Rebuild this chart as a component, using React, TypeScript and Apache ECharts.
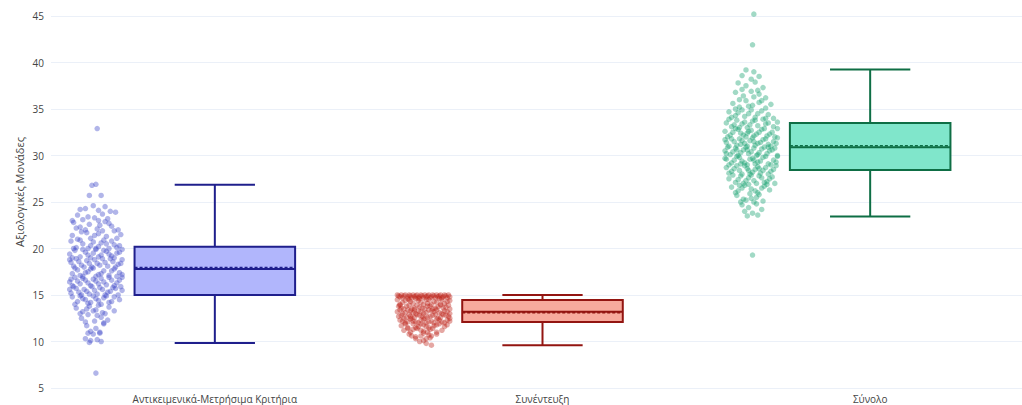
import React, { useEffect, useRef } from "react";
import * as echarts from "echarts";

const categories = ["Αντικειμενικά-Μετρήσιμα Κριτήρια", "Συνέντευξη", "Σύνολο"];
const yTicks = { min: 5, max: 45, interval: 5 };
const yTitle = "Αξιολογικές Μονάδες";

// box statistics
const boxLow = [9.85, 9.6, 23.45];
const boxQ1 = [15.0, 12.1, 28.45];
const boxMedian = [17.8, 13.2, 30.9];
const boxQ3 = [20.2, 14.45, 33.5];
const boxHigh = [26.85, 15.0, 39.25];
const boxMean = [17.95, 13.1, 31.05];

const lineColors = ["#1f1f8c", "#931511", "#0e6e45"];
const fillColors = ["#b1b6fc", "#f7aa9d", "#80e6cb"];
const pointColors = ["rgba(60,70,200,0.5)", "rgba(190,35,25,0.5)", "rgba(20,160,110,0.5)"];

// jittered points: [jitter (-1..1), value]
const points1: number[][] = [
  [0.05, 32.9], [0.0, 26.9], [-0.15, 26.8], [-0.25, 25.7], [0.2, 25.7],
  [-0.4, 24.3], [-0.1, 24.6], [0.35, 24.5], [0.55, 24.0], [-0.6, 24.2], [0.1, 24.1],
  [-0.7, 23.6], [-0.3, 23.4], [0.1, 23.0], [0.45, 23.2], [0.75, 23.9], [-0.5, 23.1], [0.25, 23.7], [-0.05, 23.3], [-0.9, 23.0],
  [-0.85, 22.8], [-0.6, 22.3], [-0.25, 22.6], [0.05, 22.1], [0.35, 22.9], [0.6, 22.4], [0.85, 22.0], [-0.4, 22.0], [0.15, 22.5], [-0.75, 22.2], [0.5, 22.7],
  [-0.9, 21.4], [-0.55, 21.8], [-0.2, 21.1], [0.1, 21.6], [0.4, 21.3], [0.7, 21.9], [0.95, 21.5], [-0.7, 21.0], [0.25, 21.9], [-0.05, 21.4], [0.8, 21.1], [-0.35, 21.7],
  [-0.95, 20.8], [-0.75, 20.1], [-0.5, 20.5], [-0.3, 20.0], [-0.1, 20.7], [0.1, 20.2], [0.3, 20.9], [0.5, 20.0], [0.7, 20.4], [0.9, 20.3], [-0.85, 20.0], [-0.2, 20.3], [0.2, 20.6], [0.6, 20.8], [0.8, 20.1], [-0.6, 20.9], [0.0, 20.0], [0.4, 20.5],
  [-1.0, 19.4], [-0.8, 19.8], [-0.6, 19.1], [-0.4, 19.6], [-0.2, 19.0], [0.0, 19.9], [0.2, 19.3], [0.4, 19.7], [0.6, 19.2], [0.8, 19.5], [1.0, 19.9], [-0.9, 19.0], [-0.5, 19.9], [-0.3, 19.3], [-0.1, 19.5], [0.1, 19.1], [0.3, 19.8], [0.5, 19.4], [0.7, 19.0], [0.9, 19.6],
  [-0.95, 18.5], [-0.75, 18.9], [-0.55, 18.2], [-0.35, 18.7], [-0.15, 18.0], [0.05, 18.4], [0.25, 18.9], [0.45, 18.1], [0.65, 18.6], [0.85, 18.3], [1.0, 18.8], [-0.85, 18.1], [-0.65, 18.6], [-0.45, 18.0], [-0.25, 18.4], [-0.05, 18.8], [0.15, 18.2], [0.35, 18.5], [0.55, 18.9], [0.75, 18.0], [0.95, 18.4], [-1.0, 18.8],
  [-0.9, 17.3], [-0.7, 17.7], [-0.5, 17.0], [-0.3, 17.5], [-0.1, 17.9], [0.1, 17.2], [0.3, 17.6], [0.5, 17.1], [0.7, 17.8], [0.9, 17.4], [-0.8, 17.9], [-0.6, 17.1], [-0.4, 17.4], [-0.2, 17.8], [0.0, 17.0], [0.2, 17.3], [0.6, 17.6], [0.8, 17.0], [1.0, 17.2],
  [-1.0, 16.4], [-0.8, 16.9], [-0.6, 16.2], [-0.4, 16.6], [-0.2, 16.0], [0.0, 16.5], [0.2, 16.8], [0.4, 16.1], [0.6, 16.6], [0.8, 16.3], [1.0, 16.9], [-0.9, 16.0], [-0.7, 16.5], [-0.5, 16.8], [-0.3, 16.3], [-0.1, 16.7], [0.1, 16.2], [0.3, 16.4], [0.5, 16.9], [0.7, 16.0], [0.9, 16.6], [-0.95, 16.7],
  [-0.95, 15.2], [-0.75, 15.7], [-0.55, 15.0], [-0.35, 15.4], [-0.15, 15.9], [0.05, 15.1], [0.25, 15.6], [0.45, 15.3], [0.65, 15.8], [0.85, 15.0], [1.0, 15.5], [-0.85, 15.9], [-0.65, 15.3], [-0.45, 15.6], [-0.25, 15.1], [-0.05, 15.5], [0.15, 15.8], [0.35, 15.0], [0.55, 15.4], [0.75, 15.7], [0.95, 15.9], [-1.0, 15.6],
  [-0.9, 14.8], [-0.7, 14.3], [-0.5, 14.6], [-0.3, 14.1], [-0.1, 14.9], [0.1, 14.4], [0.3, 14.7], [0.5, 14.2], [0.7, 14.8], [0.9, 14.5], [-0.8, 14.0], [-0.6, 14.9], [-0.4, 14.5], [-0.2, 14.2], [0.0, 14.6], [0.2, 14.0], [0.4, 14.9], [0.6, 14.3],
  [-0.75, 13.6], [-0.5, 13.2], [-0.25, 13.8], [0.0, 13.4], [0.25, 13.1], [0.5, 13.7], [0.7, 13.3], [-0.6, 13.0], [-0.35, 13.5], [0.1, 13.9], [0.35, 13.0], [-0.1, 13.3],
  [-0.55, 12.5], [-0.3, 12.9], [-0.05, 12.2], [0.2, 12.6], [0.45, 12.3], [-0.4, 12.1], [0.05, 12.8], [0.3, 12.0],
  [-0.35, 11.7], [0.0, 11.4], [0.3, 11.9], [-0.2, 11.1], [0.15, 11.0],
  [-0.3, 10.9], [-0.1, 10.8], [0.15, 10.9], [-0.4, 10.3], [-0.2, 10.1], [0.05, 10.2], [-0.25, 9.9], [0.2, 10.0],
  [0.0, 6.6],
];

const points2: number[][] = [
  [-1.0, 15.0], [-0.85, 15.0], [-0.7, 15.0], [-0.55, 15.0], [-0.4, 15.0], [-0.25, 15.0], [-0.1, 15.0], [0.05, 15.0], [0.2, 15.0], [0.35, 15.0], [0.5, 15.0], [0.65, 15.0], [0.8, 15.0], [0.95, 15.0],
  [-0.95, 14.9], [-0.75, 14.9], [-0.5, 14.9], [-0.3, 14.9], [-0.05, 14.9], [0.15, 14.9], [0.4, 14.9], [0.6, 14.9], [0.85, 14.9],
  [-0.9, 14.8], [-0.6, 14.8], [-0.35, 14.8], [-0.15, 14.8], [0.1, 14.8], [0.3, 14.8], [0.55, 14.8], [0.75, 14.8], [1.0, 14.8],
  [-0.8, 14.7], [-0.45, 14.7], [-0.2, 14.7], [0.0, 14.7], [0.25, 14.7], [0.45, 14.7], [0.7, 14.7], [0.9, 14.7],
  [-1.0, 14.5], [-0.8, 14.2], [-0.6, 14.6], [-0.4, 14.1], [-0.2, 14.4], [0.0, 14.0], [0.2, 14.5], [0.4, 14.3], [0.6, 14.6], [0.8, 14.1], [1.0, 14.4], [-0.9, 14.0], [-0.7, 14.4], [-0.5, 14.3], [-0.3, 14.6], [-0.1, 14.2], [0.1, 14.5], [0.3, 14.0], [0.5, 14.2], [0.7, 14.5], [0.9, 14.3], [-0.55, 14.5], [0.15, 14.1], [0.65, 14.0], [-0.15, 14.6],
  [-0.95, 13.8], [-0.75, 13.5], [-0.55, 13.9], [-0.35, 13.6], [-0.15, 13.7], [0.05, 13.5], [0.25, 13.8], [0.45, 13.6], [0.65, 13.9], [0.85, 13.7], [1.0, 13.5], [-0.85, 13.6], [-0.65, 13.8], [-0.45, 13.5], [-0.25, 13.9], [-0.05, 13.6], [0.15, 13.8], [0.35, 13.5], [0.55, 13.7], [0.75, 13.6], [0.95, 13.9], [-0.9, 13.9],
  [-1.0, 13.2], [-0.8, 13.0], [-0.6, 13.4], [-0.4, 13.1], [-0.2, 13.3], [0.0, 13.0], [0.2, 13.4], [0.4, 13.2], [0.6, 13.1], [0.8, 13.3], [1.0, 13.0], [-0.9, 13.4], [-0.7, 13.1], [-0.5, 13.3], [-0.3, 13.0], [-0.1, 13.2], [0.1, 13.1], [0.3, 13.3], [0.5, 13.4], [0.7, 13.0], [0.9, 13.2], [-0.35, 13.4],
  [-0.95, 12.7], [-0.75, 12.5], [-0.55, 12.9], [-0.35, 12.6], [-0.15, 12.8], [0.05, 12.5], [0.25, 12.7], [0.45, 12.9], [0.65, 12.6], [0.85, 12.8], [1.0, 12.5], [-0.85, 12.8], [-0.65, 12.6], [-0.45, 12.5], [-0.25, 12.9], [-0.05, 12.7], [0.15, 12.6], [0.35, 12.8], [0.55, 12.5], [0.75, 12.9], [0.95, 12.7], [-0.5, 12.7],
  [-0.9, 12.3], [-0.7, 12.0], [-0.5, 12.4], [-0.3, 12.1], [-0.1, 12.3], [0.1, 12.0], [0.3, 12.2], [0.5, 12.4], [0.7, 12.1], [0.9, 12.3], [-0.8, 12.2], [-0.6, 12.1], [-0.4, 12.2], [-0.2, 12.0], [0.0, 12.4], [0.2, 12.1], [0.4, 12.0], [0.6, 12.3], [0.8, 12.0], [1.0, 12.2],
  [-0.85, 11.7], [-0.6, 11.5], [-0.4, 11.9], [-0.2, 11.6], [0.0, 11.8], [0.2, 11.5], [0.4, 11.7], [0.6, 11.9], [0.8, 11.6], [-0.7, 11.9], [-0.3, 11.5], [0.1, 11.6], [0.5, 11.8], [0.9, 11.8], [-0.1, 11.9],
  [-0.75, 11.2], [-0.5, 11.0], [-0.25, 11.4], [0.0, 11.1], [0.25, 11.3], [0.5, 11.0], [0.7, 11.2], [-0.6, 11.4], [-0.1, 11.2], [0.35, 11.4], [0.15, 11.0], [-0.4, 11.3],
  [-0.55, 10.8], [-0.3, 10.5], [0.0, 10.9], [0.3, 10.6], [0.5, 10.8], [-0.1, 10.6], [0.2, 10.7], [-0.45, 10.6],
  [-0.3, 10.3], [0.0, 10.1], [0.25, 10.4], [-0.15, 10.0], [0.1, 10.3],
  [0.1, 9.8], [0.3, 9.6],
];

const points3: number[][] = [
  [0.1, 45.2], [0.05, 41.9],
  [-0.2, 39.2], [0.1, 39.0], [-0.35, 38.6], [0.3, 38.5], [0.0, 38.2],
  [-0.5, 37.8], [-0.2, 37.5], [0.15, 37.9], [0.45, 37.3], [-0.35, 37.1], [0.25, 37.0],
  [-0.6, 36.8], [-0.3, 36.4], [0.0, 36.9], [0.3, 36.6], [0.55, 36.2], [-0.45, 36.0], [0.1, 36.3],
  [-0.7, 35.6], [-0.45, 35.2], [-0.2, 35.9], [0.05, 35.4], [0.3, 35.7], [0.55, 35.1], [0.75, 35.5], [-0.6, 35.0], [-0.1, 35.3], [0.4, 35.9],
  [-0.85, 34.7], [-0.6, 34.3], [-0.35, 34.9], [-0.1, 34.5], [0.15, 34.1], [0.4, 34.8], [0.65, 34.4], [0.85, 34.0], [-0.75, 34.1], [-0.5, 34.6], [-0.25, 34.2], [0.0, 34.9], [0.25, 34.5], [0.55, 34.0],
  [-0.95, 33.5], [-0.75, 33.1], [-0.55, 33.8], [-0.35, 33.4], [-0.15, 33.0], [0.05, 33.7], [0.25, 33.2], [0.45, 33.9], [0.65, 33.5], [0.85, 33.1], [1.0, 33.6], [-0.85, 33.9], [-0.65, 33.3], [-0.45, 33.0], [-0.25, 33.6], [-0.05, 33.3], [0.15, 33.8], [0.55, 33.4],
  [-1.0, 32.6], [-0.8, 32.2], [-0.6, 32.9], [-0.4, 32.4], [-0.2, 32.0], [0.0, 32.7], [0.2, 32.3], [0.4, 32.8], [0.6, 32.1], [0.8, 32.5], [1.0, 32.9], [-0.9, 32.0], [-0.7, 32.5], [-0.5, 32.8], [-0.3, 32.2], [-0.1, 32.6], [0.1, 32.1], [0.3, 32.5], [0.5, 32.9], [0.7, 32.3], [0.9, 32.0], [-0.15, 32.4],
  [-0.95, 31.4], [-0.75, 31.8], [-0.55, 31.1], [-0.35, 31.6], [-0.15, 31.0], [0.05, 31.9], [0.25, 31.3], [0.45, 31.7], [0.65, 31.2], [0.85, 31.5], [1.0, 31.9], [-0.85, 31.0], [-0.65, 31.5], [-0.45, 31.8], [-0.25, 31.3], [-0.05, 31.6], [0.15, 31.1], [0.35, 31.4], [0.55, 31.8], [0.75, 31.0], [0.95, 31.3], [-1.0, 31.7], [0.1, 31.5], [-0.4, 31.2],
  [-1.0, 30.5], [-0.8, 30.1], [-0.6, 30.8], [-0.4, 30.3], [-0.2, 30.9], [0.0, 30.4], [0.2, 30.0], [0.4, 30.7], [0.6, 30.2], [0.8, 30.6], [1.0, 30.0], [-0.9, 30.9], [-0.7, 30.4], [-0.5, 30.0], [-0.3, 30.6], [-0.1, 30.2], [0.1, 30.8], [0.3, 30.3], [0.5, 30.9], [0.7, 30.5], [0.9, 30.8], [-0.95, 30.2], [-0.15, 30.6], [0.25, 30.1], [0.65, 30.9], [-0.55, 30.6],
  [-0.95, 29.6], [-0.75, 29.2], [-0.55, 29.9], [-0.35, 29.4], [-0.15, 29.0], [0.05, 29.7], [0.25, 29.3], [0.45, 29.8], [0.65, 29.1], [0.85, 29.5], [1.0, 29.9], [-0.85, 29.0], [-0.65, 29.5], [-0.45, 29.8], [-0.25, 29.2], [-0.05, 29.6], [0.15, 29.1], [0.35, 29.4], [0.55, 29.9], [0.75, 29.0], [0.95, 29.3], [-1.0, 29.7], [0.1, 29.5], [-0.4, 29.1],
  [-0.95, 28.7], [-0.75, 28.3], [-0.55, 28.9], [-0.35, 28.0], [-0.15, 28.6], [0.05, 28.2], [0.25, 28.8], [0.45, 28.4], [0.65, 28.0], [0.85, 28.5], [-0.85, 28.1], [-0.65, 28.6], [-0.45, 28.4], [-0.25, 28.9], [-0.05, 28.0], [0.15, 28.5], [0.35, 28.1], [0.55, 28.7], [0.75, 28.3], [0.95, 28.9], [-0.1, 28.4], [0.3, 28.6],
  [-0.85, 27.5], [-0.6, 27.1], [-0.4, 27.8], [-0.2, 27.3], [0.0, 27.9], [0.2, 27.0], [0.4, 27.6], [0.6, 27.2], [0.8, 27.7], [-0.7, 27.9], [-0.5, 27.4], [-0.3, 27.0], [-0.1, 27.6], [0.1, 27.3], [0.3, 27.8], [0.5, 27.1], [0.7, 27.5], [0.9, 27.0],
  [-0.75, 26.6], [-0.5, 26.2], [-0.25, 26.8], [0.0, 26.4], [0.25, 26.0], [0.5, 26.7], [0.7, 26.3], [-0.6, 26.0], [-0.35, 26.5], [-0.1, 26.9], [0.15, 26.2], [0.4, 26.5], [0.6, 26.9], [-0.45, 26.8],
  [-0.55, 25.7], [-0.3, 25.3], [-0.05, 25.9], [0.2, 25.5], [0.45, 25.1], [-0.4, 25.0], [0.0, 25.4], [0.3, 25.8], [-0.2, 25.2], [0.1, 25.0],
  [-0.35, 24.7], [-0.1, 24.4], [0.2, 24.8], [0.4, 24.2], [-0.25, 24.0], [0.05, 23.8], [-0.15, 23.5], [0.25, 23.6],
  [0.05, 19.3],
];

const pointSets = [points1, points2, points3];

export default function App() {
  const ref = useRef<HTMLDivElement>(null);
  useEffect(() => {
    if (!ref.current) return;
    const chart = echarts.init(ref.current, null, { renderer: "svg" });
    const font = "'Open Sans', sans-serif";
    const textColor = "#444";
    const pointOffset = -0.363;
    const jitterWidth = 0.08;

    const boxData = categories.map((_, i) => [i, boxLow[i], boxQ1[i], boxMedian[i], boxQ3[i], boxHigh[i], boxMean[i]]);

    const scatterSeries = pointSets.map((pts, i) => ({
      type: "scatter",
      xAxisIndex: 1,
      yAxisIndex: 0,
      symbolSize: 5.5,
      clip: false,
      itemStyle: { color: pointColors[i] },
      data: pts.map((p) => [i + 0.5 + pointOffset + p[0] * jitterWidth, p[1]]),
      z: 3,
    }));

    const option: any = {
      animation: false,
      backgroundColor: "#ffffff",
      grid: { left: 51, right: 0, top: 16, bottom: 17, containLabel: false, outerBoundsMode: "none" },
      graphic: [
        {
          type: "text",
          x: 19,
          y: 192,
          rotation: Math.PI / 2,
          style: {
            text: yTitle,
            fontFamily: font,
            fontSize: 11,
            fill: textColor,
            textAlign: "center",
            textVerticalAlign: "middle",
          },
        },
      ],
      xAxis: [
        {
          type: "category",
          data: categories,
          boundaryGap: true,
          axisLine: { show: false },
          axisTick: { show: false },
          axisLabel: { fontFamily: font, fontSize: 10, color: textColor, margin: 6 },
          splitLine: { show: false },
        },
        { type: "value", min: 0, max: 3, show: false },
      ],
      yAxis: {
        type: "value",
        min: yTicks.min,
        max: yTicks.max,
        interval: yTicks.interval,
        axisLine: { show: false },
        axisTick: { show: false },
        axisLabel: { fontFamily: font, fontSize: 10, color: textColor, margin: 7 },
        splitLine: { lineStyle: { color: "#ebf0f8", width: 1 } },
      },
      series: [
        ...scatterSeries,
        {
          type: "custom",
          xAxisIndex: 0,
          yAxisIndex: 0,
          data: boxData,
          encode: { x: 0, y: [1, 2, 3, 4, 5, 6] },
          z: 4,
          renderItem: (params: any, api: any) => {
            const idx = api.value(0);
            const band = api.size([1, 0])[0];
            const bw = band * 0.49;
            const cx = api.coord([idx, boxMedian[idx]])[0];
            const y = (v: number) => api.coord([idx, v])[1];
            const yLow = y(api.value(1));
            const yQ1 = y(api.value(2));
            const yMed = y(api.value(3));
            const yQ3 = y(api.value(4));
            const yHigh = y(api.value(5));
            const yMean = y(api.value(6));
            const stroke = lineColors[idx];
            const ls = { stroke, lineWidth: 2 };
            return {
              type: "group",
              children: [
                { type: "line", shape: { x1: cx, y1: yHigh, x2: cx, y2: yQ3 }, style: ls },
                { type: "line", shape: { x1: cx, y1: yQ1, x2: cx, y2: yLow }, style: ls },
                { type: "line", shape: { x1: cx - bw / 4, y1: yHigh, x2: cx + bw / 4, y2: yHigh }, style: ls },
                { type: "line", shape: { x1: cx - bw / 4, y1: yLow, x2: cx + bw / 4, y2: yLow }, style: ls },
                {
                  type: "rect",
                  shape: { x: cx - bw / 2, y: yQ3, width: bw, height: yQ1 - yQ3 },
                  style: { fill: fillColors[idx], stroke, lineWidth: 2 },
                },
                { type: "line", shape: { x1: cx - bw / 2, y1: yMed, x2: cx + bw / 2, y2: yMed }, style: ls },
                {
                  type: "line",
                  shape: { x1: cx - bw / 2, y1: yMean, x2: cx + bw / 2, y2: yMean },
                  style: { stroke, lineWidth: 1.5, lineDash: [3, 2] },
                },
              ],
            };
          },
        },
      ],
    };
    chart.setOption(option);
    return () => chart.dispose();
  }, []);
  return (
    <div style={{ position: "fixed", left: 0, top: 0, width: 1022, height: 405, overflow: "hidden", background: "#fff" }}>
      <div ref={ref} style={{ width: 1034, height: 405 }} />
    </div>
  );
}
